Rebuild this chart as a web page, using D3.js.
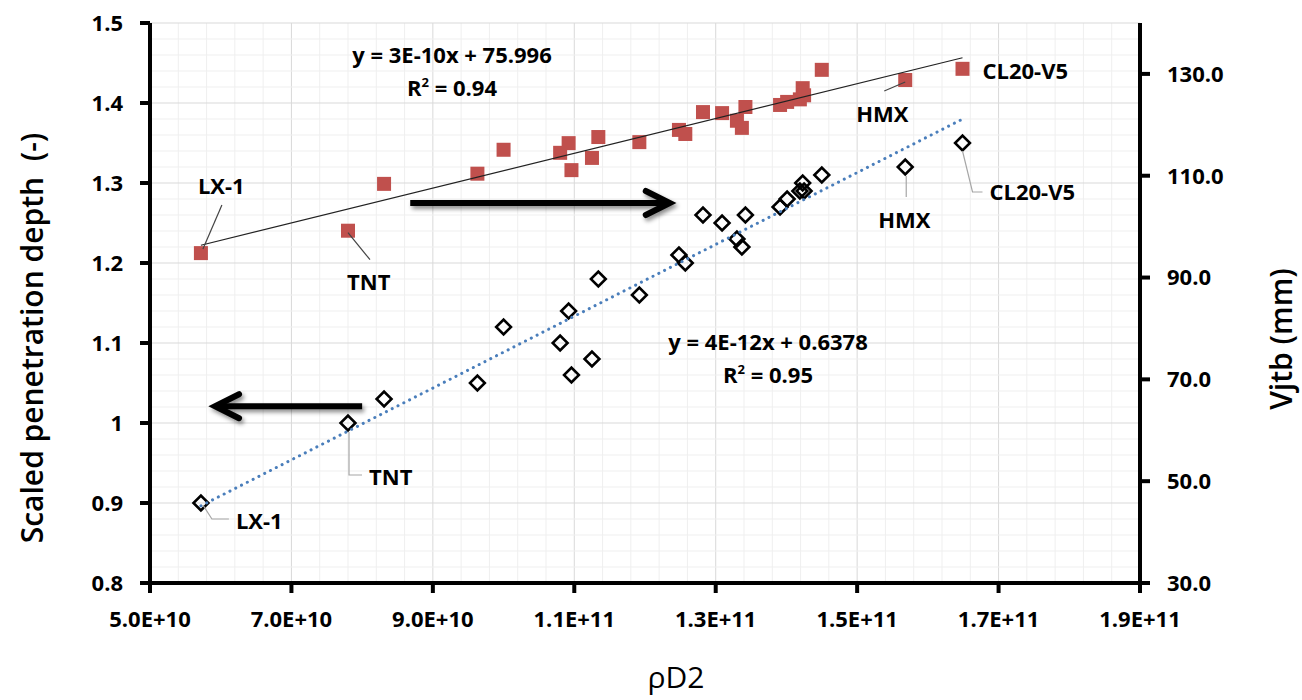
<!DOCTYPE html>
<html>
<head>
<meta charset="utf-8">
<script src="https://cdn.jsdelivr.net/npm/d3@7/dist/d3.min.js"></script>
<style>
  body { margin: 0; background: #fff; }
  text { font-family: "Open Sans", "DejaVu Sans", sans-serif; }
</style>
</head>
<body>
<div id="chart"></div>
<script>
// ================================================
// DATA
// ================================================
const rhoD2 = [5.72e10, 7.80e10, 8.31e10, 9.63e10, 10.00e10, 10.80e10, 10.92e10, 10.96e10,
               11.25e10, 11.34e10, 11.92e10, 12.48e10, 12.57e10, 12.82e10, 13.09e10, 13.30e10,
               13.37e10, 13.42e10, 13.91e10, 14.01e10, 14.19e10, 14.23e10, 14.25e10, 14.50e10,
               15.68e10, 16.49e10];

// right axis, red squares
const vjtb = [94.8, 99.2, 108.4, 110.4, 115.1, 114.5, 116.4, 111.1,
              113.5, 117.6, 116.6, 119.0, 118.2, 122.5, 122.3, 120.8,
              119.4, 123.5, 123.9, 124.5, 125.0, 127.2, 125.8, 130.8,
              128.8, 131.0];

// left axis, open diamonds
const scaledDepth = [0.90, 1.00, 1.03, 1.05, 1.12, 1.10, 1.14, 1.06,
                     1.08, 1.18, 1.16, 1.21, 1.20, 1.26, 1.25, 1.23,
                     1.22, 1.26, 1.27, 1.28, 1.29, 1.30, 1.29, 1.31,
                     1.32, 1.35];

// named explosives (index into the arrays above)
const namedPoints = [
  {name: "LX-1", index: 0},
  {name: "TNT", index: 1},
  {name: "HMX", index: 24},
  {name: "CL20-V5", index: 25}
];

const xTicks = [5e10, 7e10, 9e10, 11e10, 13e10, 15e10, 17e10, 19e10];
const leftTicks = [0.8, 0.9, 1.0, 1.1, 1.2, 1.3, 1.4, 1.5];
const rightTicks = [30, 50, 70, 90, 110, 130];

const eqRed = ["y = 3E-10x + 75.996", "R² = 0.94"];
const eqBlack = ["y = 4E-12x + 0.6378", "R² = 0.95"];

// ================================================
const W = 1302, H = 700;
const margin = {top: 23, right: 162, bottom: 117, left: 150};
const x0 = margin.left, x1 = W - margin.right;
const y0 = H - margin.bottom, y1 = margin.top;

const svg = d3.select("#chart").append("svg")
    .attr("width", W).attr("height", H)
    .attr("viewBox", [0, 0, W, H]);

const x = d3.scaleLinear().domain([5e10, 1.9e11]).range([x0, x1]);
const yL = d3.scaleLinear().domain([0.8, 1.5]).range([y0, y1]);
const yR = d3.scaleLinear().domain([30, 140]).range([y0, y1]);

// shadow for the arrows
const defs = svg.append("defs");
defs.append("filter").attr("id", "shadow")
    .attr("x", "-20%").attr("y", "-100%").attr("width", "140%").attr("height", "300%")
  .append("feDropShadow")
    .attr("dx", 2).attr("dy", 3).attr("stdDeviation", 2)
    .attr("flood-color", "#000").attr("flood-opacity", 0.45);

// ---------------- grid ----------------
const grid = svg.append("g");
d3.range(0, 36).forEach(i => {
    const v = 5e10 + i * 4e9;
    grid.append("line")
        .attr("x1", x(v)).attr("x2", x(v)).attr("y1", y0).attr("y2", y1)
        .attr("stroke", i % 5 === 0 ? "#d9d9d9" : "#efefef")
        .attr("stroke-width", 1);
});
d3.range(0, 36).forEach(i => {
    const v = 0.8 + i * 0.02;
    grid.append("line")
        .attr("x1", x0).attr("x2", x1).attr("y1", yL(v)).attr("y2", yL(v))
        .attr("stroke", i % 5 === 0 ? "#d9d9d9" : "#efefef")
        .attr("stroke-width", 1);
});

// ---------------- markers ----------------
const pts = rhoD2.map((v, i) => ({x: v, v: vjtb[i], s: scaledDepth[i]}));

svg.append("g").selectAll("rect")
    .data(pts)
    .join("rect")
    .attr("x", d => x(d.x) - 7)
    .attr("y", d => yR(d.v) - 7)
    .attr("width", 14).attr("height", 14)
    .attr("fill", "#c0504d");

const diamond = d3.symbol().type(d3.symbolSquare).size(110);
svg.append("g").selectAll("path")
    .data(pts)
    .join("path")
    .attr("d", diamond)
    .attr("transform", d => `translate(${x(d.x)},${yL(d.s)}) rotate(45)`)
    .attr("fill", "none")
    .attr("stroke", "#000")
    .attr("stroke-width", 2.6);

// ---------------- trendlines ----------------
function linReg(xs, ys) {
    const mx = d3.mean(xs), my = d3.mean(ys);
    let num = 0, den = 0;
    xs.forEach((xv, i) => { num += (xv - mx) * (ys[i] - my); den += (xv - mx) * (xv - mx); });
    const slope = num / den;
    return {slope, intercept: my - slope * mx};
}
const xr = d3.extent(rhoD2);
const regRed = linReg(rhoD2, vjtb);
const regBlack = linReg(rhoD2, scaledDepth);

svg.append("line")
    .attr("x1", x(xr[0])).attr("y1", yR(regRed.intercept + regRed.slope * xr[0]))
    .attr("x2", x(xr[1])).attr("y2", yR(regRed.intercept + regRed.slope * xr[1]))
    .attr("stroke", "#222").attr("stroke-width", 1.2);

svg.append("line")
    .attr("x1", x(xr[0])).attr("y1", yL(regBlack.intercept + regBlack.slope * xr[0]))
    .attr("x2", x(xr[1])).attr("y2", yL(regBlack.intercept + regBlack.slope * xr[1]))
    .attr("stroke", "#4a7ebb").attr("stroke-width", 3)
    .attr("stroke-linecap", "round")
    .attr("stroke-dasharray", "0.1 6.4");

// ---------------- axes ----------------
const axisW = 4;
const axes = svg.append("g");

// x axis
axes.append("line")
    .attr("x1", x0 - 2).attr("x2", x1 + 2).attr("y1", y0).attr("y2", y0)
    .attr("stroke", "#000").attr("stroke-width", axisW);
axes.selectAll(".xt").data(xTicks).join("line")
    .attr("x1", d => x(d)).attr("x2", d => x(d)).attr("y1", y0).attr("y2", y0 + 10)
    .attr("stroke", "#000").attr("stroke-width", axisW);
axes.selectAll(".xl").data(xTicks).join("text")
    .attr("x", d => x(d)).attr("y", y0 + 44)
    .attr("text-anchor", "middle")
    .attr("font-size", 22).attr("font-weight", 700)
    .text(d => d3.format(".1e")(d).toUpperCase());

// left axis
axes.append("line")
    .attr("x1", x0).attr("x2", x0).attr("y1", y1).attr("y2", y0 + 2)
    .attr("stroke", "#000").attr("stroke-width", axisW);
axes.selectAll(".lt").data(leftTicks).join("line")
    .attr("x1", x0 - 10).attr("x2", x0).attr("y1", d => yL(d)).attr("y2", d => yL(d))
    .attr("stroke", "#000").attr("stroke-width", axisW);
axes.selectAll(".ll").data(leftTicks).join("text")
    .attr("x", x0 - 27).attr("y", d => yL(d)).attr("dy", "0.36em")
    .attr("text-anchor", "end")
    .attr("font-size", 22).attr("font-weight", 700)
    .text(d => String(+d.toFixed(1)));

// right axis
axes.append("line")
    .attr("x1", x1).attr("x2", x1).attr("y1", y1).attr("y2", y0 + 2)
    .attr("stroke", "#000").attr("stroke-width", axisW);
axes.selectAll(".rt").data(rightTicks).join("line")
    .attr("x1", x1).attr("x2", x1 + 10).attr("y1", d => yR(d)).attr("y2", d => yR(d))
    .attr("stroke", "#000").attr("stroke-width", axisW);
axes.selectAll(".rl").data(rightTicks).join("text")
    .attr("x", x1 + 27).attr("y", d => yR(d)).attr("dy", "0.36em")
    .attr("text-anchor", "start")
    .attr("font-size", 22).attr("font-weight", 700)
    .text(d => d3.format(".1f")(d));

// axis titles
svg.append("text")
    .attr("transform", `translate(43,${(y0 + y1) / 2 + 35}) rotate(-90)`)
    .attr("text-anchor", "middle")
    .attr("font-size", 30).attr("font-weight", 600)
    .attr("xml:space", "preserve")
    .text("Scaled penetration depth  (-)");

svg.append("text")
    .attr("transform", `translate(1292,${(y0 + y1) / 2 + 36}) rotate(-90)`)
    .attr("text-anchor", "middle")
    .attr("font-size", 30).attr("font-weight", 600)
    .text("Vjtb (mm)");

svg.append("text")
    .attr("x", (x0 + x1) / 2 + 31).attr("y", 688)
    .attr("text-anchor", "middle")
    .attr("font-size", 30).attr("font-weight", 400)
    .text("ρD2");

// ---------------- equations ----------------
function equation(lines, cx, by) {
    const t = svg.append("text")
        .attr("text-anchor", "middle")
        .attr("font-size", 22).attr("font-weight", 700);
    t.append("tspan").attr("x", cx).attr("y", by).text(lines[0]);
    const r = t.append("tspan").attr("x", cx).attr("y", by + 33);
    r.append("tspan").text("R");
    r.append("tspan").attr("font-size", 13).attr("dy", -9).text("2");
    r.append("tspan").attr("dy", 9).text(" = " + lines[1].split("= ")[1]);
}
equation(eqRed, 452, 63);
equation(eqBlack, 768, 350);

// ---------------- point labels ----------------
// offsets in pixels from the marker they point to
const labelLayout = {
    red: {
        "LX-1":    {dx: -3,  dy: -59, leader: [[21, -48], [2, -4]]},
        "TNT":     {dx: -1,  dy: 59,  leader: [[0, 2], [22, 29]]},
        "HMX":     {dx: -49, dy: 42,  leader: [[-21, 11], [0, 2]]},
        "CL20-V5": {dx: 20,  dy: 10,  leader: []}
    },
    black: {
        "LX-1":    {dx: 35,  dy: 26,  leader: [[2, 2], [11, 16], [28, 16]]},
        "TNT":     {dx: 21,  dy: 62,  leader: [[1, 9], [1, 52], [14, 52]]},
        "HMX":     {dx: -27, dy: 61,  leader: [[1, 9], [1, 30]]},
        "CL20-V5": {dx: 27,  dy: 57,  leader: [[0, 8], [10, 49], [20, 49]]}
    }
};

const labels = svg.append("g");
namedPoints.forEach(p => {
    [["red", yR(vjtb[p.index]), "#444"], ["black", yL(scaledDepth[p.index]), "#a6a6a6"]].forEach(([key, py, lc]) => {
        const px = x(rhoD2[p.index]);
        const lay = labelLayout[key][p.name];
        if (lay.leader.length) {
            labels.append("path")
                .attr("d", d3.line()(lay.leader.map(([a, b]) => [px + a, py + b])))
                .attr("fill", "none")
                .attr("stroke", lc).attr("stroke-width", 1.2);
        }
        labels.append("text")
            .attr("x", px + lay.dx).attr("y", py + lay.dy)
            .attr("font-size", 22).attr("font-weight", 700)
            .text(p.name);
    });
});

// ---------------- arrows ----------------
function arrow(xa, xb, yv) {
    const ax = x(xa), bx = x(xb), ay = yL(yv);
    const dir = Math.sign(bx - ax);
    const g = svg.append("g").attr("filter", "url(#shadow)")
        .attr("stroke", "#000").attr("fill", "none").attr("stroke-width", 6);
    g.append("line")
        .attr("x1", ax).attr("y1", ay).attr("x2", bx - dir * 3).attr("y2", ay);
    g.append("path")
        .attr("d", d3.line()([[bx - dir * 24, ay - 12], [bx, ay], [bx - dir * 24, ay + 12]]))
        .attr("stroke-linecap", "round").attr("stroke-linejoin", "miter");
}
arrow(8.68e10, 12.35e10, 1.275);   // points to the right axis series
arrow(8.0e10, 5.92e10, 1.021);     // points to the left axis series
</script>
</body>
</html>
